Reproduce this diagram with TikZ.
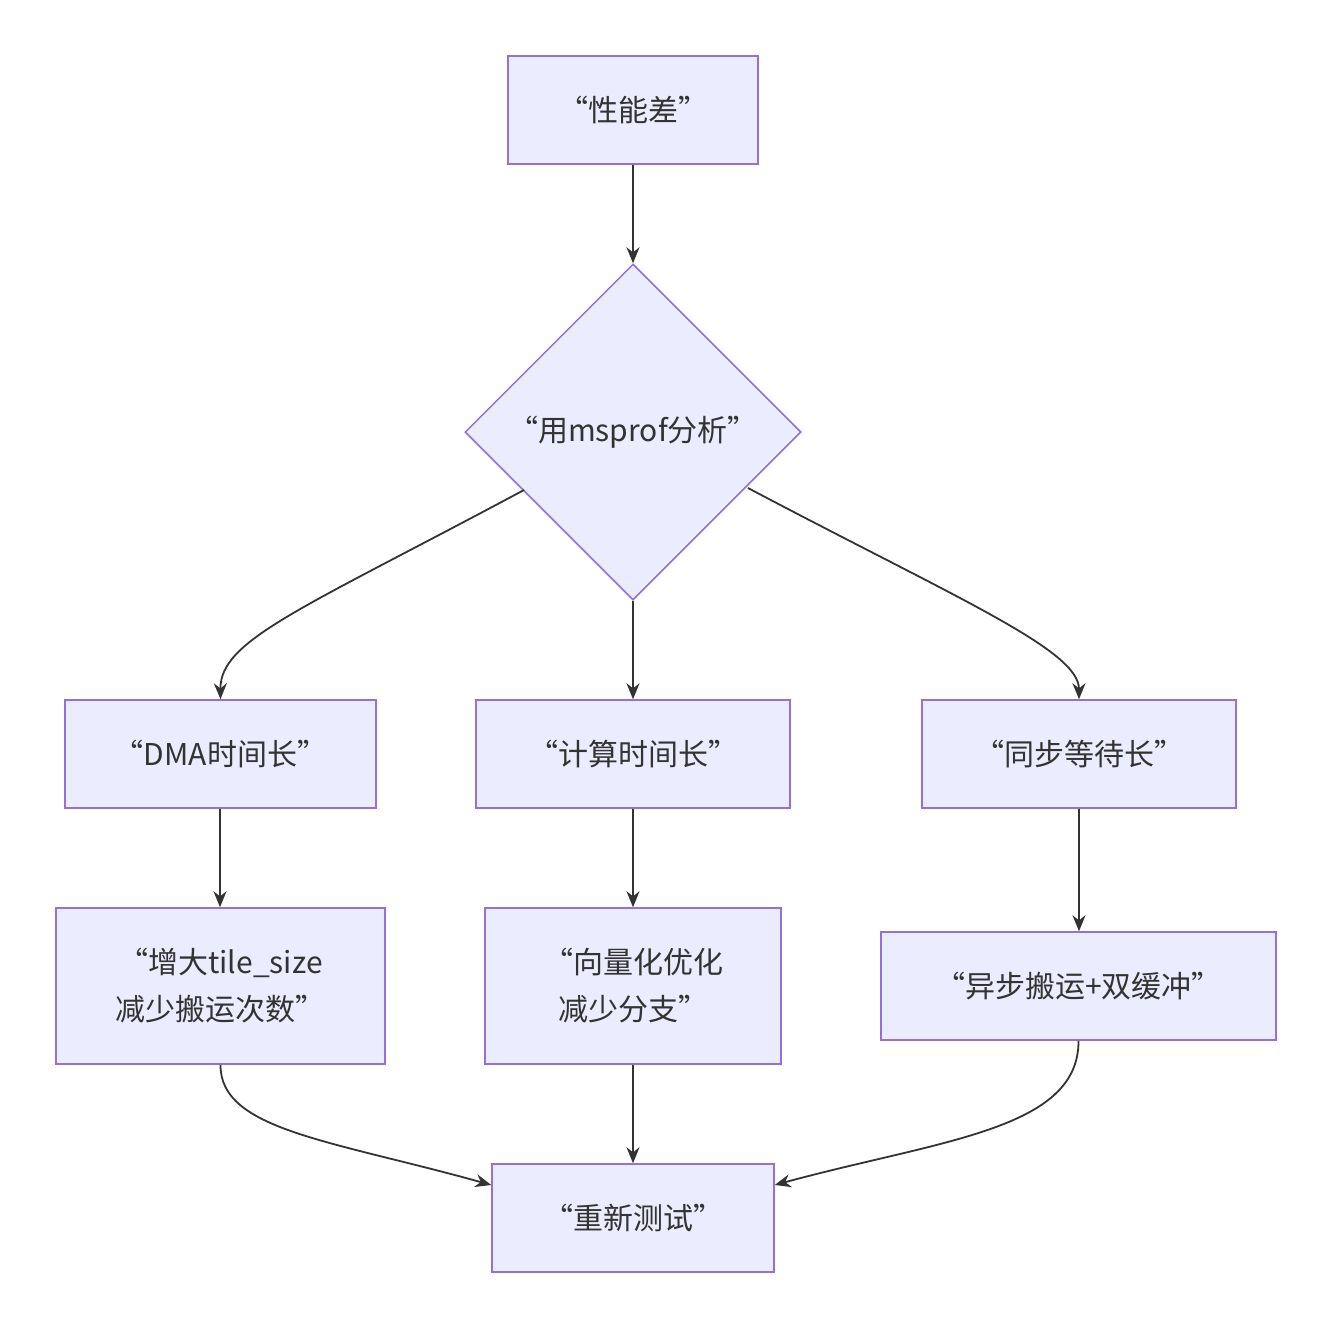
\documentclass[tikz,border=0pt]{standalone}
\usepackage{fontspec}
\setmainfont{Noto Sans CJK SC}
\usetikzlibrary{shapes.geometric,arrows.meta}
\definecolor{nodefill}{HTML}{ECECFF}
\definecolor{nodeline}{HTML}{9370DB}
\definecolor{ink}{HTML}{333333}
\begin{document}
\begin{tikzpicture}[x=1pt,y=-1pt,
  box/.style={draw=nodeline,fill=nodefill,line width=1.5pt,rectangle,inner sep=0pt,
    text=ink,align=center,font=\fontsize{30}{47}\selectfont},
  dec/.style={draw=nodeline,fill=nodefill,line width=1.5pt,diamond,inner sep=0pt,
    minimum width=336pt,minimum height=336pt,text=ink,font=\fontsize{30}{47}\selectfont},
  link/.style={draw=ink,line width=1.8pt,-{Stealth[length=16pt,width=13pt]}}]
\useasboundingbox (0,0) rectangle (1331,1328);
\fill[white] (0,0) rectangle (1331,1328);
\node[box,minimum width=250pt,minimum height=108pt] (a) at (633,110) {“性能差”};
\node[dec] (d) at (633,432) {“用msprof分析”};
\node[box,minimum width=311pt,minimum height=108pt] (b) at (220.5,754) {“DMA时间长”};
\node[box,minimum width=314pt,minimum height=108pt] (c) at (633,754) {“计算时间长”};
\node[box,minimum width=314pt,minimum height=108pt] (e) at (1079,754) {“同步等待长”};
\node[box,minimum width=329pt,minimum height=156pt] (f) at (220.5,986) {“增大tile\_size\\减少搬运次数”};
\node[box,minimum width=296pt,minimum height=156pt] (g) at (633,986) {“向量化优化\\减少分支”};
\node[box,minimum width=395pt,minimum height=108pt] (h) at (1078.5,986) {“异步搬运+双缓冲”};
\node[box,minimum width=282pt,minimum height=108pt] (t) at (633,1218) {“重新测试”};
\coordinate (dl) at (524,490);
\coordinate (dr) at (748,488);
\draw[link] (a.south) -- (d.north);
\draw[link] (dl) .. controls (300,610) and (220,640) .. (b.north);
\draw[link] (d.south) -- (c.north);
\draw[link] (dr) .. controls (960,600) and (1079,650) .. (e.north);
\draw[link] (b.south -| 220,0) -- (f.north -| 220,0);
\draw[link] (c.south) -- (g.north);
\draw[link] (e.south -| 1079,0) -- (h.north -| 1079,0);
\draw[link] (f.south) .. controls (220,1130) and (330,1140) .. (t.west |- 0,1185);
\draw[link] (g.south) -- (t.north);
\draw[link] (h.south) .. controls (1079,1130) and (940,1140) .. (t.east |- 0,1185);
\end{tikzpicture}
\end{document}
